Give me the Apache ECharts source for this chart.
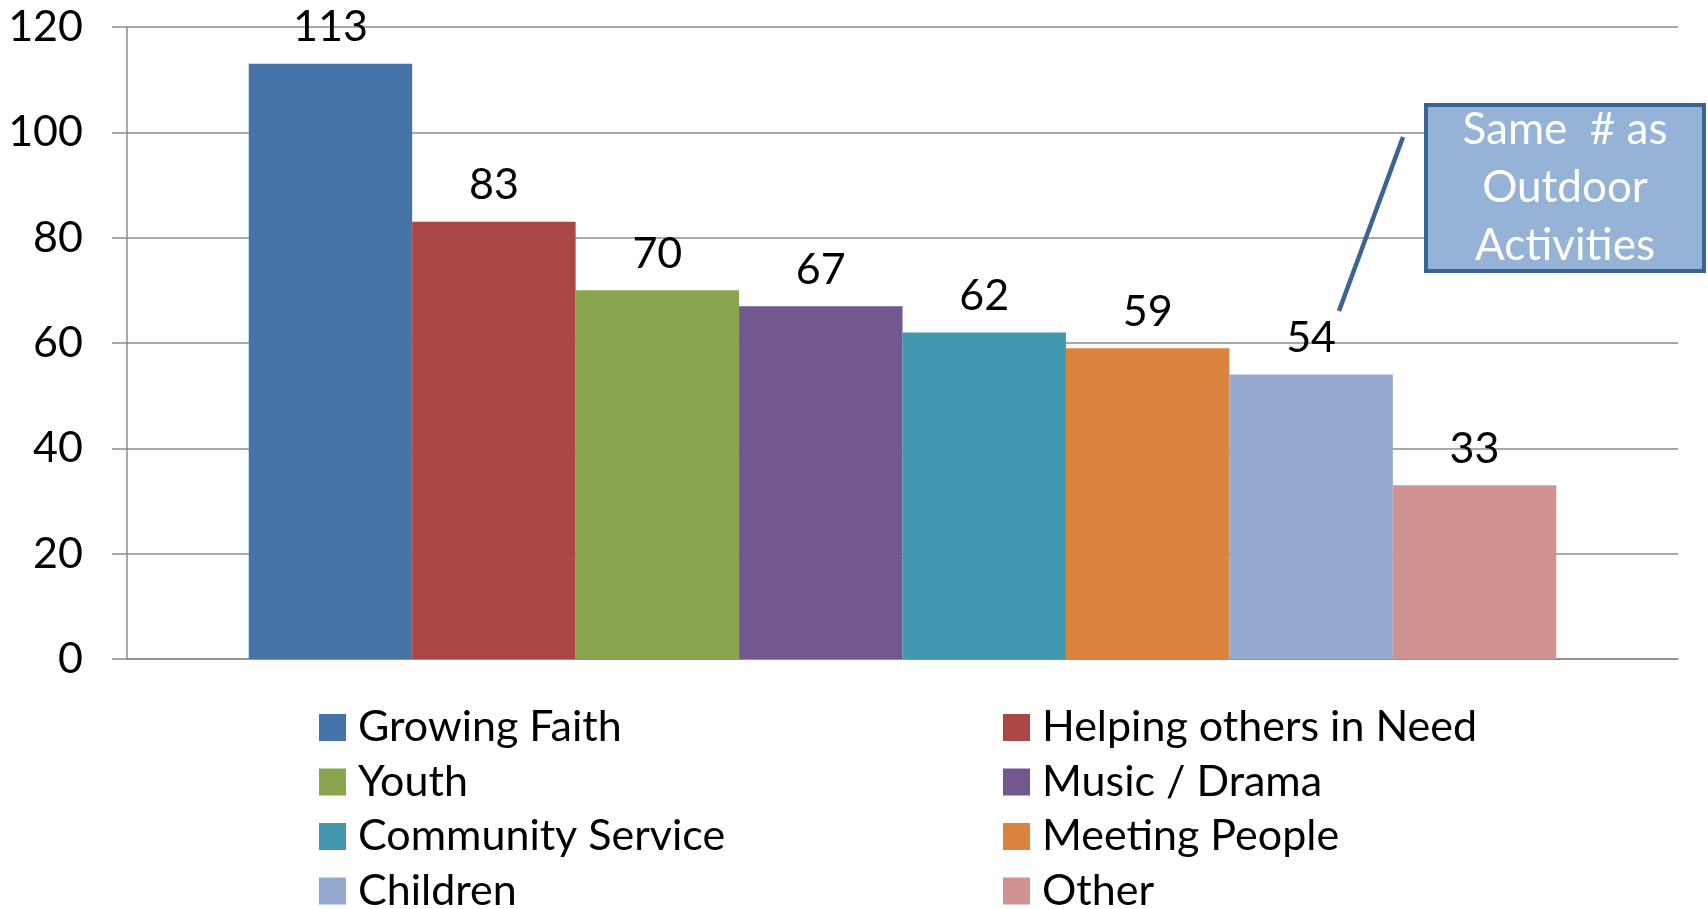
<!DOCTYPE html>
<html>
<head>
<meta charset="utf-8">
<title>Interests</title>
<script src="https://cdn.jsdelivr.net/npm/echarts@6/dist/echarts.min.js"></script>
<style>
  html, body { margin: 0; padding: 0; background: #ffffff; }
  #chart { width: 1708px; height: 909px; }
</style>
</head>
<body>
<div id="chart"></div>
<script>
// Interest areas and their response counts
const categories = ['Growing Faith', 'Helping others in Need', 'Youth', 'Music / Drama',
                    'Community Service', 'Meeting People', 'Children', 'Other'];
const values = [113, 83, 70, 67, 62, 59, 54, 33];
const colors = ['#4572A7', '#AA4643', '#89A54E', '#71588F', '#4198AF', '#DB843D', '#93A9CF', '#D19392'];
const yMin = 0, yMax = 120, yStep = 20;

const FONT = 'Lato';
const chart = echarts.init(document.getElementById('chart'), null, { renderer: 'canvas' });

const series = categories.map((name, i) => ({
  type: 'bar',
  name: name,
  data: [values[i]],
  barGap: 0,
  barCategoryGap: '15.7%',
  itemStyle: { color: colors[i] },
  label: {
    show: true,
    position: 'top',
    distance: 15,
    color: '#000000',
    fontFamily: FONT,
    fontSize: 43
  }
}));

// Legend laid out as two columns of four rows, one entry per component
const legendCols = [319, 1003];
const legendRowTop = 706;
const legendRowPitch = 54.5;
const legends = categories.map((name, i) => ({
  data: [name],
  left: legendCols[i % 2],
  top: legendRowTop + Math.floor(i / 2) * legendRowPitch,
  orient: 'horizontal',
  padding: 0,
  itemWidth: 27,
  itemHeight: 27,
  icon: 'rect',
  selectedMode: false,
  textStyle: { color: '#000000', fontFamily: FONT, fontSize: 43, padding: [0, 0, 0, 7] }
}));

chart.setOption({
  animation: false,
  backgroundColor: '#ffffff',
  grid: { left: 127, right: 30, top: 27, bottom: 250 },
  xAxis: {
    type: 'category',
    data: [''],
    axisLine: { show: true, lineStyle: { color: '#8c8c8c', width: 1.5 } },
    axisTick: { show: false },
    axisLabel: { show: false }
  },
  yAxis: {
    type: 'value',
    min: yMin,
    max: yMax,
    interval: yStep,
    axisLine: { show: true, lineStyle: { color: '#8c8c8c', width: 1.5 } },
    axisTick: { show: true, length: 15, lineStyle: { color: '#8c8c8c', width: 1.5 } },
    splitLine: { show: true, lineStyle: { color: '#8c8c8c', width: 1.5 } },
    axisLabel: { color: '#000000', fontFamily: FONT, fontSize: 43, margin: 44 }
  },
  legend: legends,
  series: series,
  graphic: [
    {
      type: 'line',
      shape: { x1: 1403, y1: 137, x2: 1339, y2: 311 },
      style: { stroke: '#3B6494', lineWidth: 4.5 },
      z: 10
    },
    {
      type: 'rect',
      shape: { x: 1426, y: 105, width: 278, height: 166 },
      style: { fill: '#95B3D7', stroke: '#3B6494', lineWidth: 4 },
      z: 10
    },
    {
      type: 'text',
      x: 1565,
      y: 188,
      style: {
        text: 'Same  # as\nOutdoor\nActivities',
        fill: '#ffffff',
        fontFamily: FONT,
        fontSize: 44,
        lineHeight: 58,
        align: 'center',
        verticalAlign: 'middle'
      },
      z: 11
    }
  ]
});
</script>
</body>
</html>
